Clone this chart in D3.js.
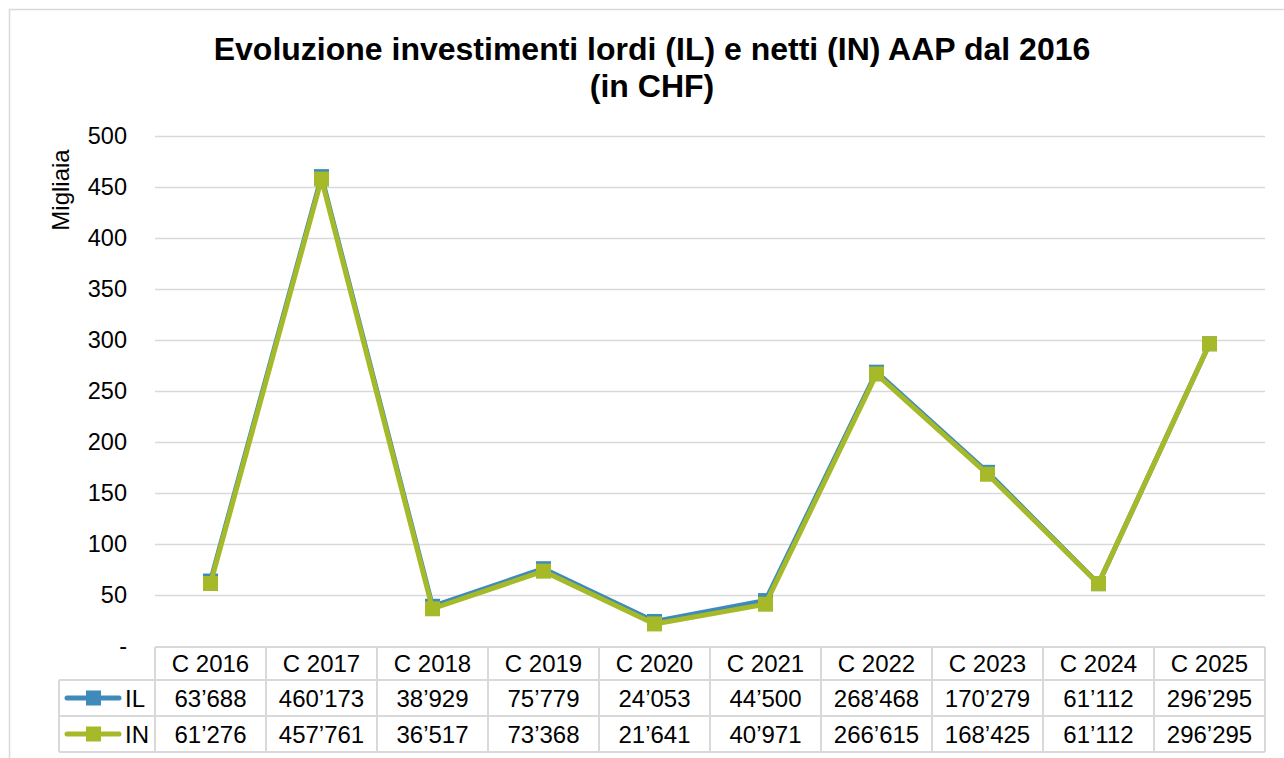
<!DOCTYPE html>
<meta charset="utf-8">
<script src="https://d3js.org/d3.v7.min.js"></script>
<style>
  body { margin: 0; background: #fff; }
  svg { display: block; font-family: "Liberation Sans", Arial, sans-serif; }
</style>
<div id="chart"></div>
<script>
  // data
  const categories = ["C 2016", "C 2017", "C 2018", "C 2019", "C 2020", "C 2021", "C 2022", "C 2023", "C 2024", "C 2025"];
  const IL = [63688, 460173, 38929, 75779, 24053, 44500, 268468, 170279, 61112, 296295];
  const IN = [61276, 457761, 36517, 73368, 21641, 40971, 266615, 168425, 61112, 296295];
  const yTicks = [0, 50, 100, 150, 200, 250, 300, 350, 400, 450, 500];

  const width = 1284, height = 758;
  const plotLeft = 155, plotRight = 1265, plotTop = 136, plotBottom = 646;
  const rowH = [647, 680, 716, 752];

  const svg = d3.select("#chart").append("svg")
    .attr("width", width).attr("height", height);

  // outer frame
  svg.append("path")
    .attr("d", `M9.5,${height}V9.5H${width}`)
    .attr("fill", "none").attr("stroke", "#d9d9d9").attr("stroke-width", 1.5);

  const x = d3.scaleBand().domain(categories).range([plotLeft, plotRight]);
  const y = d3.scaleLinear().domain([0, 500]).range([plotBottom, plotTop]);

  // title
  const title = svg.append("text").attr("text-anchor", "middle")
    .attr("font-size", 32).attr("font-weight", "bold").attr("fill", "#000");
  title.append("tspan").attr("x", 652).attr("y", 60).text("Evoluzione investimenti lordi (IL) e netti (IN) AAP dal 2016");
  title.append("tspan").attr("x", 652).attr("y", 97).text("(in CHF)");

  // grid
  svg.append("g").selectAll("line")
    .data(yTicks.filter(d => d > 0))
    .join("line")
    .attr("x1", plotLeft).attr("x2", plotRight)
    .attr("y1", d => y(d) + 0.5).attr("y2", d => y(d) + 0.5)
    .attr("stroke", "#d9d9d9").attr("stroke-width", 1.5);

  // y axis labels
  const yAxis = svg.append("g")
    .attr("transform", `translate(${plotLeft},0)`)
    .call(d3.axisLeft(y).tickValues(yTicks).tickSize(0).tickPadding(28)
      .tickFormat(d => d === 0 ? "-" : d));
  yAxis.select(".domain").remove();
  yAxis.selectAll("text").attr("font-size", 23.5).attr("font-family", "Liberation Sans, Arial, sans-serif").attr("fill", "#000");

  svg.append("text")
    .attr("transform", "translate(69,190) rotate(-90)")
    .attr("text-anchor", "middle").attr("font-size", 24).attr("fill", "#000")
    .text("Migliaia");

  // lines
  const cx = d => x(d) + x.bandwidth() / 2;
  const line = d3.line().x((d, i) => cx(categories[i])).y(d => y(d / 1000));
  const series = [
    { name: "IL", values: IL, color: "#3e8bbb" },
    { name: "IN", values: IN, color: "#a6ba29" }
  ];

  series.forEach(s => {
    const g = svg.append("g");
    g.append("path").datum(s.values)
      .attr("d", line).attr("fill", "none")
      .attr("stroke", s.color).attr("stroke-width", 5).attr("stroke-linejoin", "round");
    g.selectAll("rect").data(s.values).join("rect")
      .attr("x", (d, i) => cx(categories[i]) - 7.5)
      .attr("y", d => y(d / 1000) - 7.5)
      .attr("width", 15).attr("height", 15)
      .attr("fill", s.color);
  });

  // data table
  const fmt = v => d3.format(",")(v).replace(/,/g, "\u2019");
  const tbl = svg.append("g").attr("stroke", "#d9d9d9").attr("stroke-width", 2);
  tbl.append("line").attr("x1", plotLeft).attr("x2", plotRight).attr("y1", rowH[0]).attr("y2", rowH[0]);
  rowH.slice(1).forEach(r => tbl.append("line").attr("x1", 59).attr("x2", plotRight).attr("y1", r).attr("y2", r));
  tbl.selectAll(".v").data(d3.range(categories.length + 1)).join("line")
    .attr("x1", i => plotLeft + i * x.bandwidth()).attr("x2", i => plotLeft + i * x.bandwidth())
    .attr("y1", rowH[0]).attr("y2", rowH[3]);
  tbl.append("line").attr("x1", 59).attr("x2", 59).attr("y1", rowH[1]).attr("y2", rowH[3]);

  svg.append("g").selectAll("text").data(categories).join("text")
    .attr("x", d => cx(d)).attr("y", (rowH[0] + rowH[1]) / 2 + 8.5)
    .attr("text-anchor", "middle").attr("font-size", 24).text(d => d);

  series.forEach((s, k) => {
    const yc = (rowH[k + 1] + rowH[k + 2]) / 2;
    svg.append("g").selectAll("text").data(s.values).join("text")
      .attr("x", (d, i) => cx(categories[i])).attr("y", yc + 8.5)
      .attr("text-anchor", "middle").attr("font-size", 24).text(d => fmt(d));
    // legend key
    svg.append("line").attr("x1", 67).attr("x2", 119).attr("y1", yc).attr("y2", yc)
      .attr("stroke", s.color).attr("stroke-width", 5).attr("stroke-linecap", "round");
    svg.append("rect").attr("x", 86).attr("y", yc - 7.5).attr("width", 15).attr("height", 15).attr("fill", s.color);
    svg.append("text").attr("x", 125).attr("y", yc + 8.5).attr("font-size", 24).text(s.name);
  });
</script>
